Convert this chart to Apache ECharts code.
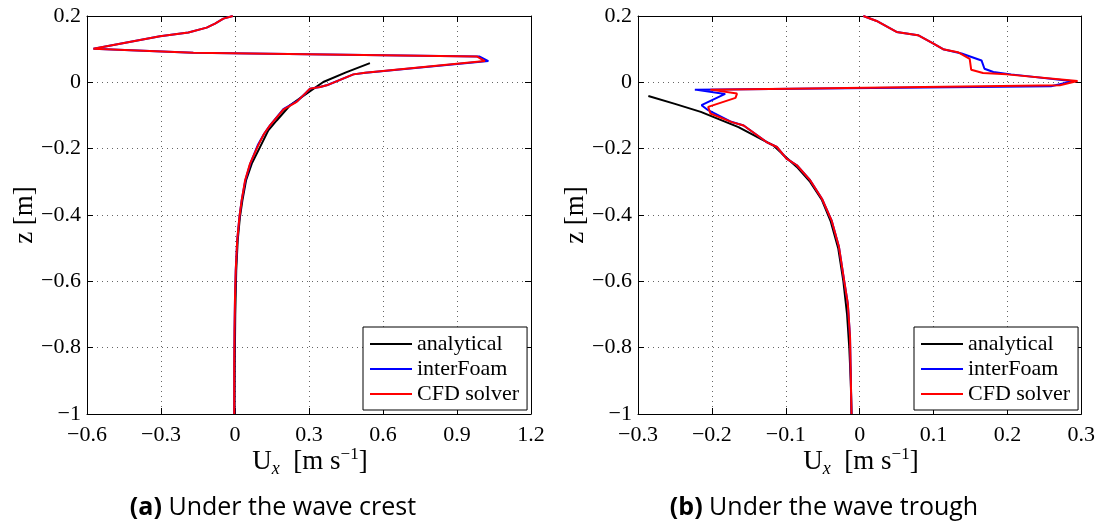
<!DOCTYPE html>
<html>
<head>
<meta charset="utf-8">
<script src="https://cdn.jsdelivr.net/npm/echarts@6/dist/echarts.min.js"></script>
<style>html,body{margin:0;padding:0;background:#fff;}#c{width:1098px;height:524px;}</style>
</head>
<body>
<div id="c"></div>
<script>
// ---------- DATA ----------
const seriesNames = ['analytical', 'interFoam', 'CFD solver'];
const zTicks = [-1, -0.8, -0.6, -0.4, -0.2, 0, 0.2];
const crestUTicks = [-0.6, -0.3, 0, 0.3, 0.6, 0.9, 1.2];
const troughUTicks = [-0.3, -0.2, -0.1, 0, 0.1, 0.2, 0.3];

// (a) Under the wave crest: [Ux, z]
const crestAnalytical = [[0.547,0.058],[0.45,0.03],[0.358,0.001],[0.29,-0.034],[0.223,-0.069],[0.169,-0.115],[0.135,-0.145],[0.115,-0.175],[0.068,-0.245],[0.045,-0.295],[0.03,-0.356],[0.02,-0.406],[0.011,-0.476],[0.005,-0.567],[0.001,-0.7],[-0.001,-0.85],[-0.002,-1.0]];
const crestInterFoam = [[-0.009,0.2],[-0.047,0.192],[-0.081,0.177],[-0.115,0.165],[-0.189,0.150],[-0.304,0.139],[-0.574,0.101],[-0.169,0.089],[0.99,0.078],[1.027,0.064],[0.53,0.029],[0.48,0.024],[0.375,-0.008],[0.345,-0.014],[0.304,-0.019],[0.287,-0.032],[0.252,-0.057],[0.196,-0.081],[0.142,-0.13],[0.118,-0.155],[0.092,-0.19],[0.062,-0.245],[0.042,-0.295],[0.027,-0.356],[0.018,-0.406],[0.009,-0.476],[0.003,-0.567],[0.0,-0.65],[-0.002,-0.75],[-0.003,-0.85],[-0.003,-1.0]];
const crestCFD = [[-0.009,0.2],[-0.047,0.192],[-0.081,0.177],[-0.115,0.165],[-0.189,0.150],[-0.304,0.139],[-0.574,0.101],[-0.169,0.089],[0.980,0.078],[1.013,0.064],[0.527,0.029],[0.48,0.024],[0.372,-0.009],[0.345,-0.014],[0.304,-0.019],[0.284,-0.034],[0.25,-0.059],[0.196,-0.082],[0.142,-0.13],[0.118,-0.155],[0.094,-0.19],[0.061,-0.245],[0.041,-0.295],[0.027,-0.356],[0.018,-0.406],[0.009,-0.476],[0.003,-0.567],[0.0,-0.65],[-0.002,-0.75],[-0.003,-0.85],[-0.003,-1.0]];

// (b) Under the wave trough: [Ux, z]
const troughAnalytical = [[-0.286,-0.041],[-0.25,-0.065],[-0.215,-0.089],[-0.164,-0.135],[-0.13,-0.175],[-0.117,-0.19],[-0.105,-0.215],[-0.085,-0.255],[-0.067,-0.3],[-0.051,-0.355],[-0.039,-0.42],[-0.029,-0.5],[-0.022,-0.6],[-0.017,-0.7],[-0.014,-0.8],[-0.012,-0.9],[-0.011,-1.0]];
const troughInterFoam = [[0.005,0.2],[0.023,0.185],[0.05,0.152],[0.079,0.142],[0.1,0.117],[0.113,0.1],[0.138,0.087],[0.165,0.066],[0.169,0.041],[0.181,0.031],[0.205,0.024],[0.289,0.003],[0.259,-0.012],[-0.223,-0.022],[-0.182,-0.035],[-0.214,-0.069],[-0.205,-0.084],[-0.175,-0.118],[-0.157,-0.13],[-0.126,-0.18],[-0.112,-0.195],[-0.099,-0.23],[-0.085,-0.25],[-0.067,-0.295],[-0.051,-0.351],[-0.038,-0.416],[-0.028,-0.496],[-0.021,-0.597],[-0.016,-0.667],[-0.013,-0.767],[-0.011,-1.0]];
const troughCFD = [[0.005,0.2],[0.023,0.185],[0.05,0.152],[0.079,0.142],[0.1,0.117],[0.113,0.1],[0.133,0.091],[0.149,0.071],[0.151,0.038],[0.167,0.028],[0.199,0.024],[0.295,0.004],[0.271,-0.009],[-0.202,-0.022],[-0.166,-0.034],[-0.168,-0.047],[-0.205,-0.074],[-0.202,-0.094],[-0.173,-0.12],[-0.157,-0.13],[-0.126,-0.18],[-0.112,-0.195],[-0.099,-0.23],[-0.085,-0.25],[-0.067,-0.295],[-0.051,-0.351],[-0.038,-0.416],[-0.028,-0.496],[-0.021,-0.597],[-0.016,-0.667],[-0.013,-0.767],[-0.011,-1.0]];

const captions = ['Under the wave crest', 'Under the wave trough'];
const captionTags = ['(a)', '(b)'];

// ---------- CHART ----------
const serif = 'Liberation Serif';
const colors = ['#000000', '#0000ff', '#ff0000'];
const fmt = v => { const r = Math.round(v * 1000) / 1000; return (r < 0 ? '\u2212' : '') + String(Math.abs(r)); };

const grids = [
  { left: 87, top: 16, width: 444, height: 398 },
  { left: 638, top: 16, width: 444, height: 398 }
];
const xRanges = [
  { min: crestUTicks[0], max: crestUTicks[crestUTicks.length - 1], interval: 0.3 },
  { min: troughUTicks[0], max: troughUTicks[troughUTicks.length - 1], interval: 0.1 }
];
const yRange = { min: zTicks[0], max: zTicks[zTicks.length - 1], interval: 0.2 };

const xAxes = [], yAxes = [];
grids.forEach((g, i) => {
  const base = {
    gridIndex: i, type: 'value',
    axisLine: { show: true, onZero: false, lineStyle: { color: '#000', width: 1 } },
    axisTick: { show: true, inside: true, length: 6, lineStyle: { color: '#000' } }
  };
  const lab = { show: true, formatter: fmt, color: '#000', fontFamily: serif, fontSize: 22, showMinLabel: true, showMaxLabel: true };
  xAxes.push(Object.assign({}, base, xRanges[i], {
    position: 'bottom',
    axisLabel: Object.assign({}, lab, { margin: 10 }),
    splitLine: { show: true, lineStyle: { type: [1, 4], color: '#666', width: 1 } }
  }));
  xAxes.push(Object.assign({}, base, xRanges[i], {
    position: 'top', axisLabel: { show: false }, splitLine: { show: false }
  }));
  yAxes.push(Object.assign({}, base, yRange, {
    position: 'left',
    axisLabel: Object.assign({}, lab, { margin: 6 }),
    splitLine: { show: true, lineStyle: { type: [1, 4], color: '#666', width: 1 } }
  }));
  yAxes.push(Object.assign({}, base, yRange, {
    position: 'right', axisLabel: { show: false }, splitLine: { show: false }
  }));
});

const datasets = [[crestAnalytical, crestInterFoam, crestCFD], [troughAnalytical, troughInterFoam, troughCFD]];
const series = [];
datasets.forEach((set, gi) => {
  set.forEach((d, si) => {
    series.push({
      name: seriesNames[si], type: 'line', data: d,
      xAxisIndex: gi * 2, yAxisIndex: gi * 2,
      showSymbol: false, symbol: 'none', smooth: false,
      lineStyle: { color: colors[si], width: 2 }, itemStyle: { color: colors[si] },
      animation: false, z: 2 + si
    });
  });
});

const legendBase = {
  orient: 'vertical', top: 327, icon: 'rect', itemWidth: 42, itemHeight: 2, itemGap: 3,
  padding: [6, 8, 5, 7], borderColor: '#000', borderWidth: 1, backgroundColor: '#fff',
  textStyle: { fontFamily: serif, fontSize: 22, color: '#000', lineHeight: 22 },
  data: seriesNames, selectedMode: false
};

const axisTitleRich = {
  u: { fontFamily: serif, fontSize: 27, lineHeight: 32, color: '#000' },
  x: { fontFamily: serif, fontSize: 18, fontStyle: 'italic', lineHeight: 16, verticalAlign: 'bottom', color: '#000' },
  s: { fontFamily: serif, fontSize: 17, lineHeight: 16, verticalAlign: 'top', color: '#000' }
};
const graphics = [];
grids.forEach((g, i) => {
  const cx = g.left + g.width / 2;
  graphics.push({
    type: 'text', x: cx + 1, y: 462,
    style: { text: '{u|U}{x|x}{u|  [m s}{s|\u22121}{u|]}', rich: axisTitleRich, align: 'center', verticalAlign: 'middle' }
  });
  graphics.push({
    type: 'text', x: g.left - 62, y: 215, rotation: Math.PI / 2,
    style: { text: 'z [m]', fontFamily: serif, fontSize: 27, fill: '#000', align: 'center', verticalAlign: 'middle' }
  });
  graphics.push({
    type: 'text', x: [273, 824][i], y: 508,
    style: {
      text: '{b|' + captionTags[i] + '} ' + captions[i], align: 'center', verticalAlign: 'middle',
      fontFamily: '"Open Sans", sans-serif', fontSize: 25, fill: '#000',
      rich: { b: { fontFamily: '"Open Sans", sans-serif', fontSize: 25, fontWeight: 'bold', fill: '#000' } }
    }
  });
});

const chart = echarts.init(document.getElementById('c'), null, { renderer: 'canvas' });
chart.setOption({
  backgroundColor: '#fff',
  animation: false,
  textStyle: { fontFamily: serif },
  grid: grids,
  xAxis: xAxes,
  yAxis: yAxes,
  legend: [Object.assign({}, legendBase, { left: 363 }), Object.assign({}, legendBase, { left: 914 })],
  series: series,
  graphic: graphics
});
</script>
</body>
</html>
